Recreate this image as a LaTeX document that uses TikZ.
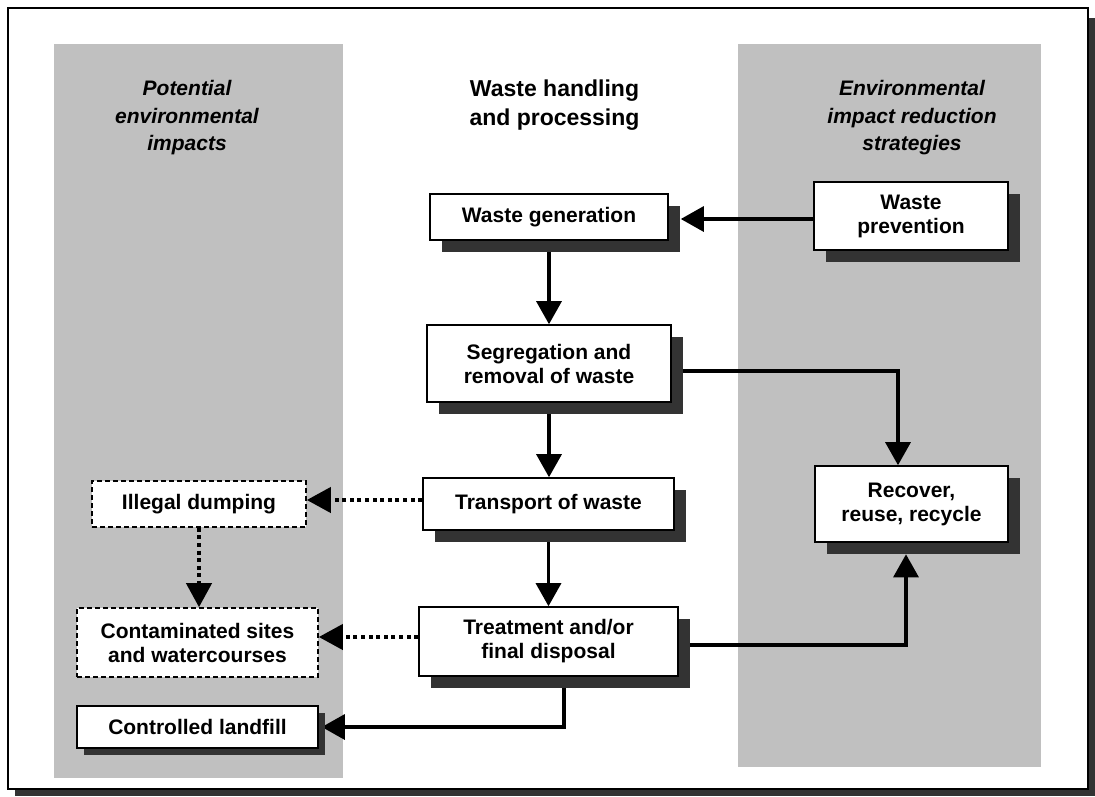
\documentclass[tikz,border=0pt]{standalone}
\usepackage{fontspec}
\setmainfont{Liberation Sans}
\usetikzlibrary{arrows.meta,shadows}
\definecolor{panelc}{HTML}{C0C0C0}
\definecolor{shadec}{HTML}{333333}
\pgfdeclarelayer{back}
\pgfdeclarelayer{mid}
\pgfsetlayers{back,mid,main}
\begin{document}
\begin{tikzpicture}[x=1pt,y=-1pt,
  boxbase/.style={line width=1.6pt, fill=white, inner sep=0pt, align=center,
    font=\bfseries\fontsize{21}{24}\selectfont},
  box/.style={boxbase, draw=black,
    drop shadow={shadow xshift=11.5pt, shadow yshift=-11.5pt, opacity=1, fill=shadec}},
  smallbox/.style={boxbase, draw=black,
    drop shadow={shadow xshift=6.5pt, shadow yshift=-6.5pt, opacity=1, fill=shadec}},
  dashbox/.style={boxbase, draw=black, dash pattern=on 5pt off 3pt},
  sidetitle/.style={align=center, font=\bfseries\itshape\fontsize{21}{27.5}\selectfont},
  maintitle/.style={align=center, font=\bfseries\fontsize{23}{29}\selectfont},
  arr/.style={line width=3.2pt, -{Triangle[length=23pt,width=25pt]}},
  dotarr/.style={line width=4pt, dash pattern=on 4pt off 3.6pt, -{Triangle[length=24pt,width=25pt]}}
]
\useasboundingbox (0,0) rectangle (1095,796);
\begin{pgfonlayer}{back}
  \fill[shadec] (15,18) rectangle (1095,796);
  \draw[line width=2pt, fill=white] (8,8) rectangle (1088,789);
  \fill[panelc] (54,44) rectangle (343,778);
  \fill[panelc] (738,44) rectangle (1041,767);
\end{pgfonlayer}

\node[sidetitle] (t1) at (187,118) {Potential\\environmental\\impacts};
\node[maintitle] (t2) at (554.5,105) {Waste handling\\and processing};
\node[sidetitle] (t3) at (912,118) {Environmental\\impact reduction\\strategies};

\node[box, minimum width=238pt, minimum height=46pt] (wg) at (549,217) {Waste generation};
\node[box, minimum width=194pt, minimum height=68pt] (wp) at (911,216) {Waste\\prevention};
\node[box, minimum width=244pt, minimum height=77pt] (seg) at (549,363.5) {Segregation and\\removal of waste};
\node[box, minimum width=251pt, minimum height=52pt] (tp) at (548.5,504) {Transport of waste};
\node[box, minimum width=259pt, minimum height=69pt] (tr) at (548.5,641.5) {Treatment and/or\\final disposal};
\node[box, minimum width=193pt, minimum height=76pt] (rec) at (911.5,504) {Recover,\\reuse, recycle};
\node[dashbox, minimum width=214pt, minimum height=46pt] (il) at (199,504) {Illegal dumping};
\node[dashbox, minimum width=241pt, minimum height=69pt] (ct) at (197.5,642.5) {Contaminated sites\\and watercourses};
\node[smallbox, minimum width=241pt, minimum height=42pt] (cl) at (197.5,727) {Controlled landfill};

\begin{pgfonlayer}{mid}
  \draw[arr, shorten >=12pt] ([yshift=-3pt]wp.west) -- ([yshift=-3pt]wp.west -| wg.east);
  \draw[arr] (wg.south) -- (seg.north);
  \draw[arr] (seg.south) -- (seg.south |- tp.north);
  \draw[arr] (tp.south) -- (tp.south |- tr.north);
  \draw[arr] ([yshift=-7.5pt]seg.east) -| ([xshift=-13.5pt]rec.north);
  \draw[arr, shorten >=11.5pt] ([yshift=-3.5pt]tr.east) -| ([xshift=-5.5pt]rec.south);
  \draw[arr, shorten >=3pt] ([xshift=15.5pt]tr.south) |- (cl.east);
  \draw[dotarr] ([yshift=4pt]tp.west) -- ([yshift=4pt]tp.west -| il.east);
  \draw[dotarr] ([yshift=4.5pt]tr.west) -- ([yshift=4.5pt]tr.west -| ct.east);
  \draw[dotarr] (il.south) -- (il.south |- ct.north);
\end{pgfonlayer}
\end{tikzpicture}
\end{document}
